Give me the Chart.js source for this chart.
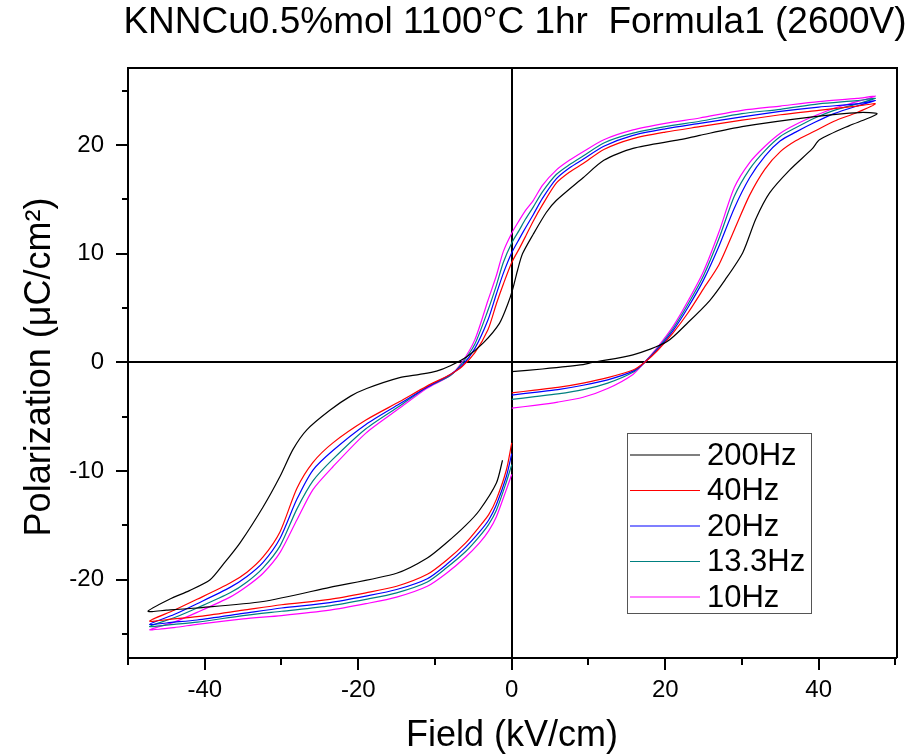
<!DOCTYPE html>
<html>
<head>
<meta charset="utf-8">
<script src="https://cdn.jsdelivr.net/npm/chart.js@4.4.1/dist/chart.umd.min.js"></script>
<style>
  html, body { margin: 0; padding: 0; background: #fff; }
  #wrap { width: 913px; height: 756px; }
</style>
</head>
<body>
<div id="wrap"><canvas id="loopChart" width="913" height="756"></canvas></div>
<script>
// P-E hysteresis loops
const chartTitle = 'KNNCu0.5%mol 1100\u00B0C 1hr  Formula1 (2600V)';
const xAxisTitle = 'Field (kV/cm)';
const yAxisTitle = 'Polarization (\u03BCC/cm\u00B2)';
const seriesLabels = ['200Hz', '40Hz', '20Hz', '13.3Hz', '10Hz'];
const seriesColors = ['#000000', '#ff0000', '#0000ff', '#008080', '#ff00ff'];
const xTickValues = [-40, -20, 0, 20, 40];
const yTickValues = [-20, -10, 0, 10, 20];
const xMinorValues = [-50, -30, -10, 10, 30, 50];
const yMinorValues = [-25, -15, -5, 5, 15, 25];

// field (kV/cm) for the 200Hz loop
const field200 = [
  0, 4, 9.3, 10.5, 15.8, 20.2, 23, 25.8, 27.8, 30.1, 31.8, 33.6, 36.2, 39.2, 40.1, 44, 46.2, 47.6,
  45.3, 39.2, 30, 24.5, 21.9, 15.8, 12, 9.3, 5.8, 4.5, 2.8, 1.4, 0.8, 0.15, -0.5, -1.6, -3.7, -5.9,
  -8, -9.8, -12, -14.6, -18.9, -21, -23.7, -26.7, -28.5, -30.2, -32.4, -35.4, -37.5, -39.3, -42, -44.6, -47.4,
  -45, -41, -32.4, -23.7, -15, -11, -8.5, -6, -4.2, -2, -1.2
];
const pol200 = [
  -0.85, -0.6, -0.2, 0, 0.7, 1.9, 3.7, 5.7, 7.6, 10.1, 13.2, 15.6, 17.7, 19.7, 20.5, 21.8, 22.4, 22.9,
  23.0, 22.6, 21.7, 20.9, 20.5, 19.7, 18.6, 17.0, 14.9, 13.8, 11.8, 10.0, 8.6, 6.8, 5.4, 3.6, 1.8, 0.5,
  -0.3, -0.8, -1.1, -1.4, -2.4, -3.1, -4.4, -6.2, -8.0, -10.5, -13.3, -16.6, -18.5, -20.0, -21.0, -21.8, -22.9,
  -22.8, -22.6, -22.0, -20.7, -19.4, -18.0, -16.6, -15.0, -13.6, -11.1, -9.0
];

// field (kV/cm) shared by the 40 / 20 / 13.3 / 10 Hz loops
const fieldLow = [
  0, 3, 6, 9.3, 12.5, 15.8, 17.3,
  19, 21, 23, 25, 27, 29, 31, 33, 35, 37, 39.5, 42, 45, 47.4,
  45, 40, 35, 30, 24.5, 20, 15.8, 12, 9.3, 7.5, 5.8, 4, 2.8, 1.8, 1.0, 0, -1.1, -2, -3.1, -4.8,
  -6.5, -8, -11.1, -14.6, -19, -23.3, -25.9, -28, -30.2, -32.4, -34.5, -36.7, -41, -44, -47.2,
  -44, -41, -35, -30, -23.7, -19, -15, -11, -8.5, -6, -4.2, -3, -2, -0.7, 0
];
const pol40 = [
  -2.8, -2.55, -2.3, -1.9, -1.4, -0.7, 0,
  1.1, 2.7, 4.6, 6.8, 9.0, 12.2, 15.4, 17.8, 19.4, 20.4, 21.3, 22.2, 23.0, 23.8,
  23.6, 23.2, 22.8, 22.3, 21.7, 21.2, 20.6, 19.6, 18.3, 17.5, 16.5, 14.5, 13.0, 11.6, 10.5, 9.2, 7.2, 5.4, 3.0, 0.9,
  -0.4, -1.1, -2.2, -3.6, -5.3, -7.4, -9.2, -11.6, -15.6, -17.9, -19.3, -20.3, -21.8, -22.8, -23.8,
  -23.6, -23.4, -22.8, -22.3, -21.8, -21.2, -20.6, -19.5, -18.2, -16.6, -15.1, -14.0, -12.6, -9.9, -7.4
];
const pol20 = [
  -3.0, -2.75, -2.5, -2.1, -1.6, -0.8, 0,
  1.2, 2.9, 5.1, 7.6, 10.7, 14.2, 17.0, 19.0, 20.4, 21.2, 22.1, 22.9, 23.6, 24.1,
  23.8, 23.5, 23.1, 22.6, 22.0, 21.5, 20.9, 19.9, 18.7, 17.9, 16.9, 15.1, 13.6, 12.4, 11.4, 10.1, 8.2, 6.3, 3.9, 1.3,
  -0.3, -1.1, -2.3, -3.8, -5.7, -8.1, -9.9, -12.6, -16.2, -18.4, -19.7, -20.7, -22.2, -23.2, -24.1,
  -23.9, -23.7, -23.1, -22.6, -22.1, -21.5, -20.9, -19.9, -18.6, -17.0, -15.6, -14.5, -13.1, -10.5, -8.4
];
const pol13 = [
  -3.4, -3.15, -2.9, -2.5, -1.9, -0.9, 0,
  1.3, 3.1, 5.4, 8.0, 11.4, 15.3, 17.8, 19.5, 20.8, 21.6, 22.5, 23.2, 23.8, 24.3,
  24.1, 23.8, 23.3, 22.9, 22.2, 21.7, 21.1, 20.2, 19.0, 18.2, 17.3, 15.7, 14.3, 13.2, 12.2, 11.0, 9.2, 7.1, 4.8, 1.7,
  -0.1, -1.2, -2.3, -4.0, -6.1, -8.9, -10.9, -13.5, -16.9, -18.9, -20.2, -21.2, -22.6, -23.5, -24.3,
  -24.1, -23.9, -23.3, -22.9, -22.4, -21.8, -21.2, -20.2, -18.9, -17.4, -16.0, -14.9, -13.6, -11.0, -9.4
];
const pol10 = [
  -4.2, -3.95, -3.65, -3.2, -2.4, -1.1, 0,
  1.4, 3.3, 5.7, 8.4, 12.0, 16.1, 18.4, 19.9, 21.1, 21.9, 22.7, 23.4, 24.0, 24.5,
  24.3, 24.0, 23.6, 23.2, 22.5, 22.0, 21.4, 20.5, 19.4, 18.6, 17.7, 16.3, 14.9, 14.0, 13.1, 11.9, 10.2, 8.0, 5.7, 2.1,
  0, -1.2, -2.4, -4.2, -6.5, -9.6, -11.7, -14.5, -17.5, -19.4, -20.6, -21.6, -23.0, -23.9, -24.6,
  -24.4, -24.1, -23.6, -23.3, -22.8, -22.2, -21.6, -20.6, -19.4, -17.9, -16.6, -15.5, -14.2, -11.7, -10.3
];

const seriesFields = [field200, fieldLow, fieldLow, fieldLow, fieldLow];
const seriesPols = [pol200, pol40, pol20, pol13, pol10];

const FONT = '"Liberation Sans", Arial, Helvetica, sans-serif';

function toPoints(xs, ys) {
  return xs.map((x, i) => ({ x: x, y: ys[i] }));
}

const datasets = seriesLabels.map((label, i) => ({
  label: label,
  data: toPoints(seriesFields[i], seriesPols[i]),
  borderColor: seriesColors[i],
  backgroundColor: seriesColors[i],
  borderWidth: 1.2,
  showLine: true,
  fill: false,
  tension: 0.25,
  pointRadius: 0
}));

// minor ticks, frame, titles and the boxed legend
const decorPlugin = {
  id: 'decor',
  afterDraw(chart) {
    const ctx = chart.ctx;
    const area = chart.chartArea;
    const xs = chart.scales.x;
    const ys = chart.scales.y;
    ctx.save();

    // frame top/right
    ctx.strokeStyle = '#000';
    ctx.lineWidth = 2;
    ctx.beginPath();
    ctx.moveTo(area.left, area.top);
    ctx.lineTo(area.right, area.top);
    ctx.lineTo(area.right, area.bottom);
    ctx.stroke();

    // minor ticks
    ctx.beginPath();
    yMinorValues.forEach(v => {
      const py = Math.round(ys.getPixelForValue(v));
      ctx.moveTo(area.left - 6, py);
      ctx.lineTo(area.left, py);
    });
    xMinorValues.forEach(v => {
      const px = Math.round(xs.getPixelForValue(v));
      ctx.moveTo(px, area.bottom);
      ctx.lineTo(px, area.bottom + 7);
    });
    ctx.stroke();

    // titles
    ctx.fillStyle = '#000';
    ctx.textAlign = 'center';
    ctx.textBaseline = 'middle';
    ctx.font = '37px ' + FONT;
    ctx.fillText(chartTitle, 515, 23);

    ctx.font = '36px ' + FONT;
    ctx.fillText(xAxisTitle, 512, 736);

    ctx.save();
    ctx.translate(40, 367);
    ctx.rotate(-Math.PI / 2);
    ctx.fillText(yAxisTitle, 0, 0);
    ctx.restore();

    // legend
    ctx.lineWidth = 1;
    ctx.strokeStyle = '#555';
    ctx.strokeRect(627.5, 433.5, 184, 180);
    ctx.textAlign = 'left';
    ctx.font = '31px ' + FONT;
    chart.data.datasets.forEach((ds, i) => {
      const ly = 455 + i * 35.5;
      ctx.strokeStyle = ds.borderColor;
      ctx.lineWidth = 1.2;
      ctx.beginPath();
      ctx.moveTo(630, ly);
      ctx.lineTo(700, ly);
      ctx.stroke();
      ctx.fillStyle = '#000';
      ctx.fillText(ds.label, 707, ly + 1);
    });

    ctx.restore();
  }
};

function fixedTicks(values) {
  return function(scale) {
    scale.ticks = values.map(v => ({ value: v }));
  };
}

const zeroLine = {
  drawOnChartArea: true,
  tickLength: 12,
  tickWidth: 2,
  tickColor: '#000',
  color: c => (c.tick && c.tick.value === 0) ? '#000' : 'rgba(0,0,0,0)',
  lineWidth: c => (c.tick && c.tick.value === 0) ? 2 : 0
};

new Chart(document.getElementById('loopChart'), {
  type: 'scatter',
  data: { datasets },
  options: {
    responsive: false,
    animation: false,
    layout: { padding: { top: 68, right: 16, left: 0, bottom: 0 } },
    plugins: {
      legend: { display: false },
      tooltip: { enabled: false }
    },
    scales: {
      x: {
        type: 'linear',
        min: -50,
        max: 50.2,
        afterFit(scale) { scale.height = 98; },
        afterBuildTicks: fixedTicks(xTickValues),
        ticks: {
          color: '#000',
          padding: 6,
          font: { family: FONT, size: 24 },
          maxRotation: 0
        },
        grid: zeroLine,
        border: { display: true, color: '#000', width: 2 }
      },
      y: {
        type: 'linear',
        min: -27.2,
        max: 27.1,
        afterFit(scale) { scale.width = 128; },
        afterBuildTicks: fixedTicks(yTickValues),
        ticks: {
          color: '#000',
          padding: 12,
          font: { family: FONT, size: 24 }
        },
        grid: zeroLine,
        border: { display: true, color: '#000', width: 2 }
      }
    }
  },
  plugins: [decorPlugin]
});
</script>
</body>
</html>
